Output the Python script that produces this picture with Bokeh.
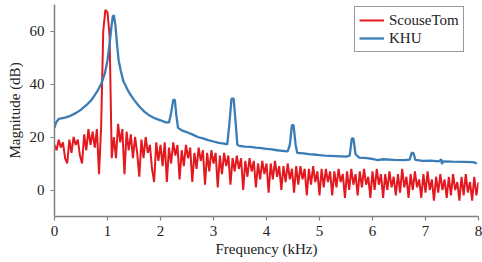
from bokeh.plotting import figure
from bokeh.models import Range1d, FixedTicker, Legend, LegendItem
from bokeh.embed import file_html
from bokeh.resources import INLINE

# ScouseTom spectrum, sampled every 0.04 kHz from 0 to 8 kHz (dB)
red_mag = [
    17, 15, 19, 16, 18, 12, 10, 19, 14, 20, 17, 19, 13, 10, 21, 15, 23, 17, 22, 16, 23, 6, 24, 60, 68,
    67, 58, 12, 20, 12, 25, 18, 23, 6, 22, 15, 21, 12, 20, 14, 5, 19, 12, 20, 14, 17, 8, 3, 18, 11,
    17, 9, 18, 3, 16, 10, 18, 13, 17, 4, 15, 9, 17, 12, 16, 3, 14, 8, 16, 11, 15, 2, 14, 7, 15,
    10, 14, 1, 13, 6, 14, 9, 13, 2, 12, 7, 13, 8, 12, 0, 11, 5, 12, 7, 11, 1, 10, 4, 11, 6,
    10, -1, 10, 4, 11, 5, 9, 0, 9, 3, 10, 4, 8, -1, 9, 2, 9, 4, 8, -2, 8, 2, 9, 3, 7,
    -2, 8, 1, 8, 3, 7, -2, 7, 1, 8, 3, 6, -3, 7, 0, 8, 2, 6, -2, 7, 1, 8, 2, 5, -3,
    7, 0, 8, 2, 6, -3, 6, 0, 7, 1, 5, -2, 6, -1, 8, 1, 5, -3, 6, 0, 7, 1, 4, -3, 6,
    -1, 7, 0, 4, -4, 5, -1, 6, 0, 4, -3, 5, -2, 6, 0, 3, -4, 5, -2, 6, -1, 3, -4, 5, -2,
    3,
]
red_freq = [round(i * 0.04, 2) for i in range(len(red_mag))]

# KHU spectrum (kHz, dB)
blue_freq = [0.00, 0.03, 0.08, 0.2, 0.3, 0.4, 0.5, 0.6, 0.7, 0.8, 0.88, 0.95, 1.00, 1.04, 1.07,
             1.10, 1.12, 1.15, 1.18, 1.21, 1.25, 1.30, 1.40, 1.50, 1.60, 1.70, 1.80, 1.90, 2.00,
             2.10, 2.16, 2.20, 2.24, 2.27, 2.30, 2.33, 2.40, 2.50, 2.60, 2.70, 2.80, 2.90, 3.00,
             3.10, 3.20, 3.26, 3.30, 3.34, 3.38, 3.42, 3.45, 3.50, 3.60, 3.70, 3.80, 3.90, 4.00,
             4.10, 4.20, 4.30, 4.40, 4.44, 4.48, 4.51, 4.55, 4.58, 4.70, 4.80, 4.90, 5.00, 5.10,
             5.20, 5.30, 5.40, 5.50, 5.57, 5.61, 5.64, 5.68, 5.75, 5.90, 6.00, 6.10, 6.20, 6.40,
             6.60, 6.70, 6.74, 6.77, 6.81, 6.95, 7.10, 7.25, 7.30, 7.31, 7.33, 7.50, 7.70, 7.90, 7.97]
blue_mag = [23.5, 25.5, 26.8, 27.3, 28, 29, 30.3, 32, 34, 37, 40, 44, 49, 55, 61,
            65.5, 66, 62, 55, 49, 45, 41, 37, 34, 31.5, 29.5, 28, 27, 26.3,
            25.5, 25.5, 29, 34, 34, 28, 23.5, 22.5, 21.8, 21, 20, 19.5, 18.8, 18.3,
            17.8, 17.5, 17.2, 25, 34.5, 34.5, 25, 17, 16.6, 16.4, 16.3, 16, 15.8, 15.5,
            15.3, 15, 14.8, 14.6, 17, 24.5, 24.5, 17, 14, 13.8, 13.5, 13.4, 13.2, 13,
            12.9, 12.8, 12.7, 12.6, 13, 19.5, 19.5, 13.5, 12.2, 12, 11.7, 11.3, 11.6, 11.4,
            11.3, 11.5, 14, 14, 11.4, 11, 11.1, 10.8, 11.5, 9.8, 10.8, 10.7, 10.6, 10.5, 10]

x_ticks = [0, 1, 2, 3, 4, 5, 6, 7, 8]
y_ticks = [0, 20, 40, 60]

FONT = "serif"
RED = "#e3191f"
BLUE = "#3a7db6"

p = figure(width=482, height=262, output_backend="svg", toolbar_location=None,
           x_range=Range1d(0, 8), y_range=Range1d(-10, 70),
           min_border_left=54, min_border_right=4, min_border_top=4, min_border_bottom=46)
p.outline_line_color = None
p.xgrid.visible = False
p.ygrid.visible = False
p.background_fill_color = "white"
p.border_fill_color = "white"

r1 = p.line(red_freq, red_mag, line_color=RED, line_width=2)
r2 = p.line(blue_freq, blue_mag, line_color=BLUE, line_width=2.3)

p.axis.axis_line_color = "#808080"
p.axis.axis_line_width = 1.5
p.axis.major_tick_line_color = "#808080"
p.axis.major_tick_line_width = 1.2
p.axis.major_tick_out = 4
p.axis.major_tick_in = 0
p.axis.minor_tick_line_color = None
p.axis.major_label_text_font = FONT
p.axis.major_label_text_font_size = "15px"
p.axis.major_label_text_color = "#222222"
p.axis.axis_label_text_font = FONT
p.axis.axis_label_text_font_size = "15px"
p.axis.axis_label_text_font_style = "normal"
p.axis.axis_label_text_color = "#222222"

p.xaxis.ticker = FixedTicker(ticks=x_ticks)
p.yaxis.ticker = FixedTicker(ticks=y_ticks)
p.xaxis.axis_label = "Frequency (kHz)"
p.yaxis.axis_label = "Magnitude (dB)"
p.xaxis.major_label_standoff = 5
p.yaxis.major_label_standoff = 6
p.xaxis.axis_label_standoff = 2
p.yaxis.axis_label_standoff = 4

legend = Legend(items=[LegendItem(label="ScouseTom", renderers=[r1]),
                       LegendItem(label="KHU", renderers=[r2])],
                location=(300, 164))
legend.label_text_font = FONT
legend.label_text_font_size = "15px"
legend.label_text_color = "#222222"
legend.border_line_color = "#333333"
legend.border_line_width = 1
legend.background_fill_alpha = 1
legend.padding = 4
legend.spacing = 0
legend.margin = 0
legend.glyph_width = 25
legend.glyph_height = 18
legend.label_height = 18
legend.label_standoff = 5
p.add_layout(legend)

open("out.html", "w").write(file_html(p, INLINE))
